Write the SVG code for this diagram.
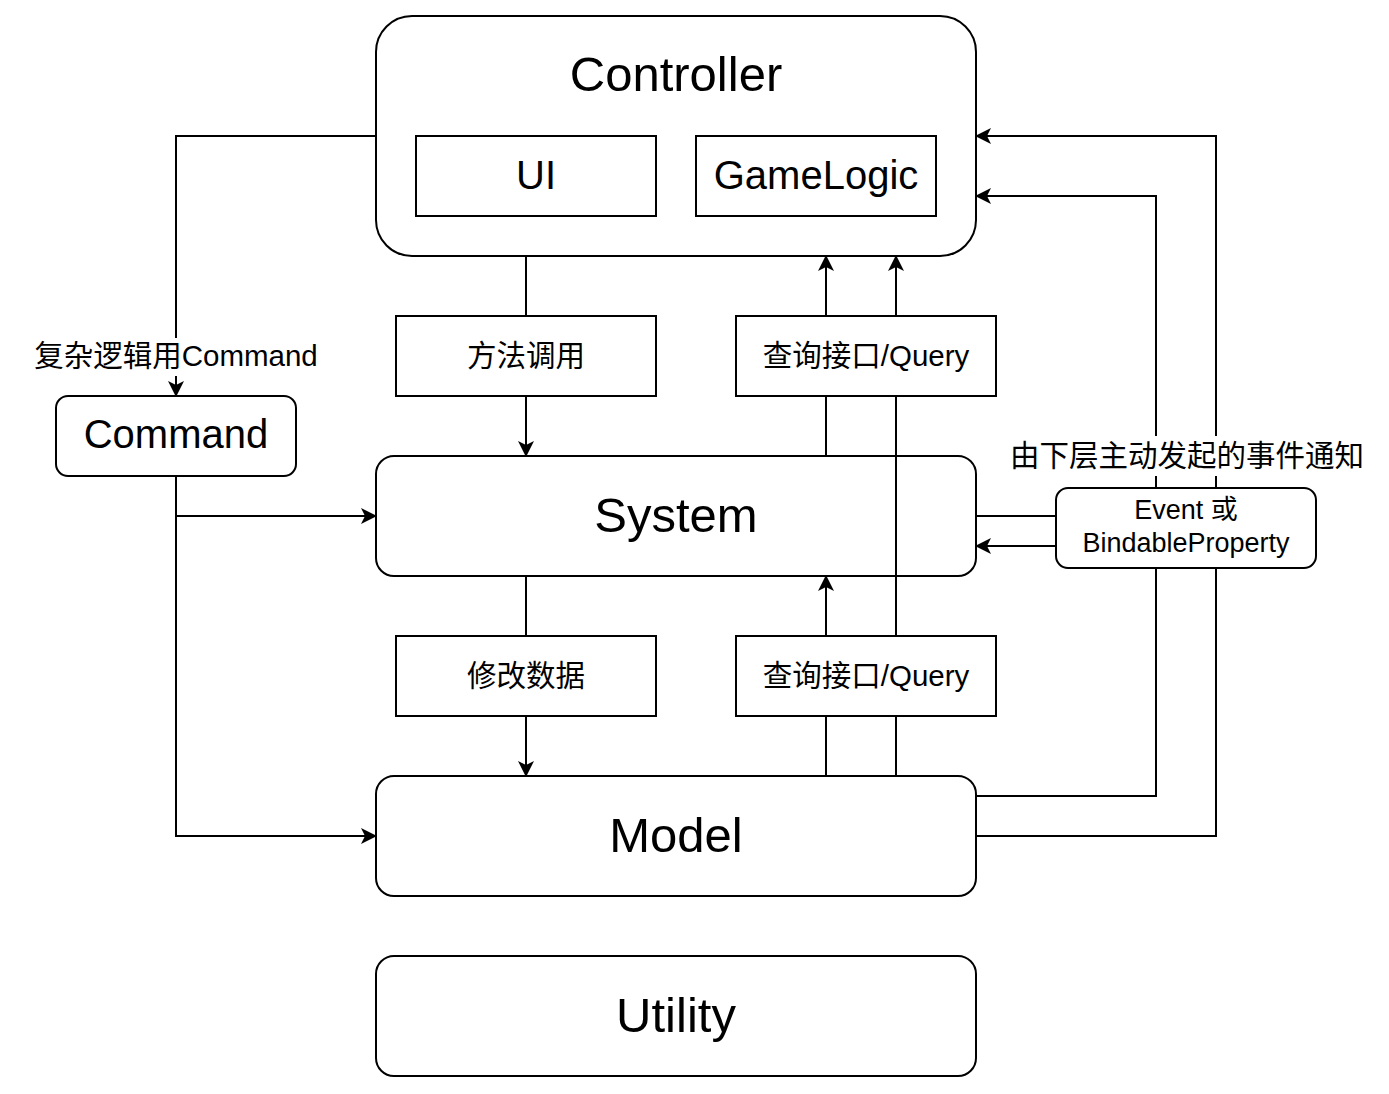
<svg xmlns="http://www.w3.org/2000/svg" width="1389" height="1094" viewBox="0 0 1389 1094">
<style>
.box{fill:#fff;stroke:#000;stroke-width:2}
.ln{fill:none;stroke:#000;stroke-width:2}
.t{font-family:"Liberation Sans","Noto Sans CJK SC",sans-serif;fill:#000;text-anchor:middle}
.big{font-size:49px}
.mid{font-size:40px}
.sm{font-size:29.5px}
.xs{font-size:27px}
.bg{fill:#fff;stroke:none}
</style>
<defs>
<marker id="arr" viewBox="0 0 16 16" refX="15" refY="8" markerWidth="16" markerHeight="16" orient="auto" markerUnits="userSpaceOnUse">
<path d="M0,0 L16,8 L0,16 L4,8 Z" fill="#000"/>
</marker>
</defs>
<rect width="1389" height="1094" fill="#fff"/>

<g id="controller">
<rect class="box" x="376" y="16" width="600" height="240" rx="36" ry="36"/>
<text class="t big" x="676" y="91">Controller</text>
</g>
<g id="ui">
<rect class="box" x="416" y="136" width="240" height="80"/>
<text class="t mid" x="536" y="189">UI</text>
</g>
<g id="gamelogic">
<rect class="box" x="696" y="136" width="240" height="80"/>
<text class="t mid" x="816" y="189">GameLogic</text>
</g>
<g id="system">
<rect class="box" x="376" y="456" width="600" height="120" rx="18" ry="18"/>
<text class="t big" x="676" y="532">System</text>
</g>
<g id="model">
<rect class="box" x="376" y="776" width="600" height="120" rx="18" ry="18"/>
<text class="t big" x="676" y="852">Model</text>
</g>
<g id="utility">
<rect class="box" x="376" y="956" width="600" height="120" rx="18" ry="18"/>
<text class="t big" x="676" y="1032">Utility</text>
</g>
<g id="command">
<rect class="box" x="56" y="396" width="240" height="80" rx="12" ry="12"/>
<text class="t mid" x="176" y="448">Command</text>
</g>

<g id="connectors">
<path class="ln" d="M376,136 H176 V396" marker-end="url(#arr)"/>
<path class="ln" d="M526,256 V316"/>
<path class="ln" d="M526,396 V456" marker-end="url(#arr)"/>
<path class="ln" d="M526,576 V636"/>
<path class="ln" d="M526,716 V776" marker-end="url(#arr)"/>
<path class="ln" d="M826,456 V396 M826,316 V256" marker-end="url(#arr)"/>
<path class="ln" d="M826,776 V716 M826,636 V576" marker-end="url(#arr)"/>
<path class="ln" d="M896,776 V716 M896,636 V396 M896,316 V256" marker-end="url(#arr)"/>
<path class="ln" d="M176,476 V836 H376" marker-end="url(#arr)"/>
<path class="ln" d="M176,516 H376" marker-end="url(#arr)"/>
<path class="ln" d="M976,796 H1156 V196 H976" marker-end="url(#arr)"/>
<path class="ln" d="M976,836 H1216 V136 H976" marker-end="url(#arr)"/>
<path class="ln" d="M976,516 H1056"/>
<path class="ln" d="M1056,546 H976" marker-end="url(#arr)"/>
<g id="label-command">
<rect class="bg" x="32" y="338" width="288" height="38"/>
<text class="t sm" x="176" y="366">复杂逻辑用Command</text>
</g>
<g id="label-event">
<rect class="bg" x="1007" y="436" width="360" height="40"/>
<text class="t sm" x="1187" y="466">由下层主动发起的事件通知</text>
</g>
</g>

<g id="call">
<rect class="box" x="396" y="316" width="260" height="80"/>
<text class="t sm" x="526" y="366">方法调用</text>
</g>
<g id="query-top">
<rect class="box" x="736" y="316" width="260" height="80"/>
<text class="t sm" x="866" y="366">查询接口/Query</text>
</g>
<g id="modify">
<rect class="box" x="396" y="636" width="260" height="80"/>
<text class="t sm" x="526" y="686">修改数据</text>
</g>
<g id="query-bottom">
<rect class="box" x="736" y="636" width="260" height="80"/>
<text class="t sm" x="866" y="686">查询接口/Query</text>
</g>
<g id="event">
<rect class="box" x="1056" y="488" width="260" height="80" rx="12" ry="12"/>
<text class="t xs" x="1186" y="519">Event 或</text>
<text class="t xs" x="1186" y="552">BindableProperty</text>
</g>
</svg>
